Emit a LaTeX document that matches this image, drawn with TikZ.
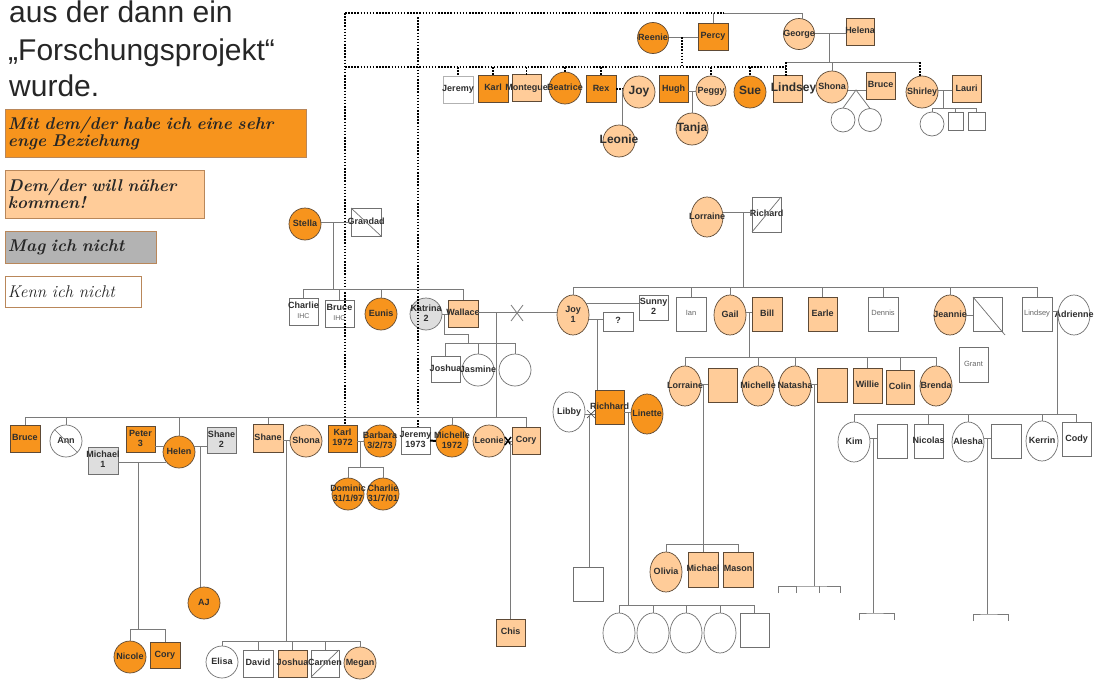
\documentclass[tikz,border=0pt]{standalone}
\usepackage{fontspec}
\newfontfamily\arl{Liberation Sans}
\usetikzlibrary{shapes.geometric}
\definecolor{dor}{HTML}{F7941D}
\definecolor{lor}{HTML}{FFCC99}
\definecolor{lgr}{HTML}{DEDEDE}
\definecolor{leggr}{HTML}{B3B3B3}
\definecolor{brd}{HTML}{5E4A36}
\definecolor{wbrd}{HTML}{707070}
\definecolor{lnc}{HTML}{7A7A7A}
\definecolor{txt}{HTML}{2E2E2E}
\definecolor{gtxt}{HTML}{666666}
\definecolor{legb}{HTML}{B9875A}
\definecolor{head}{HTML}{262626}
\newcommand\zb[1]{\makebox[0pt]{\begin{tabular}{@{}c@{}}#1\end{tabular}}}
\newcommand\ihc{{\mdseries\color{gtxt}\fontsize{7}{8}\selectfont IHC}}
\newcommand\tk[2]{\draw[con] (#1.north |- #2) -- (#1.north);}
\tikzset{
 con/.style={draw=lnc, line width=0.8pt},
 dots/.style={draw=black, line width=1.5pt, dash pattern=on 1.5pt off 1.6pt},
 pn/.style={draw=brd, line width=0.7pt, inner sep=0pt, outer sep=0pt, text=txt, font=\arl\bfseries\fontsize{9}{10}\selectfont},
 sq/.style={pn, rectangle, minimum width=29pt, minimum height=27pt},
 sqt/.style={sq, minimum height=34pt},
 ci/.style={pn, circle, minimum size=32pt},
 el/.style={pn, ellipse, minimum width=32pt, minimum height=40pt},
 wh/.style={fill=white, draw=wbrd},
 dk/.style={fill=dor},
 lt/.style={fill=lor},
 gy/.style={fill=lgr, draw=wbrd},
 bigt/.style={font=\arl\bfseries\fontsize{12}{13}\selectfont},
 thint/.style={font=\arl\fontsize{7.5}{8}\selectfont, text=gtxt},
 dec/.style={draw=wbrd, line width=0.7pt},
 legbox/.style={draw=legb, line width=0.8pt, inner sep=3pt, align=left, font=\bfseries\itshape\fontsize{17}{15}\selectfont, text=black!85},
 headt/.style={anchor=base west, inner sep=0pt, font=\arl\fontsize{30}{30}\selectfont, text=head},
}
\begin{document}
\begin{tikzpicture}[x=1pt,y=-1pt]
\useasboundingbox (0,0) rectangle (1101,680);
% heading
\node[headt] (h1) at (9,23) {aus der dann ein};
\node[headt] (h2) at (8,60) {„Forschungsprojekt“};
\node[headt] (h3) at (9,96) {wurde.};
% legend
\node[legbox, fill=dor, text width=295pt, minimum height=48pt] (lg1) at (155.5,133) {Mit dem/der habe ich eine sehr\\enge Beziehung};
\node[legbox, fill=lor, text width=193pt, minimum height=48pt] (lg2) at (104.5,194) {Dem/der will näher\\kommen!};
\node[legbox, fill=leggr, text width=145pt, minimum height=32pt] (lg3) at (80.5,247) {Mag ich nicht};
\node[legbox, fill=white, text width=130pt, minimum height=31pt, font=\itshape\fontsize{17}{15}\selectfont] (lg4) at (73,291.5) {Kenn ich nicht};

% ---------- top generation
\node[sq,dk,minimum width=30pt] (percy) at (713,36.5) {\zb{Percy}};
\node[ci,dk,minimum size=31pt] (reenie) at (653,38) {\zb{Reenie}};
\node[ci,lt,minimum size=31pt] (george) at (799,34) {\zb{George}};
\node[sq,lt,minimum width=28pt] (helena) at (860,31.5) {\zb{Helena}};
\node[sq,wh,draw=black!30,minimum width=30pt] (jeremyT) at (458,89.5) {\zb{Jeremy}};
\node[sq,dk,minimum width=30pt] (karlT) at (493,88.5) {\zb{Karl}};
\node[sq,lt] (monteg) at (526.5,88) {\zb{Montegue}};
\node[ci,dk] (beatrice) at (565,88) {\zb{Beatrice}};
\node[sq,dk,minimum width=30pt] (rex) at (601,89) {\zb{Rex}};
\node[ci,lt,bigt] (joyT) at (639,92) {\zb{Joy}};
\node[ci,lt,bigt] (leonieT) at (619,141) {\zb{Leonie}};
\node[sq,dk] (hugh) at (673.5,89) {\zb{Hugh}};
\node[ci,lt,minimum size=30pt] (peggy) at (711,91) {\zb{Peggy}};
\node[ci,lt,bigt] (tanja) at (692,129) {\zb{Tanja}};
\node[ci,dk,bigt] (sue) at (750,92) {\zb{Sue}};
\node[sq,lt,bigt] (lindseyT) at (787.5,89) {\zb{\hspace{12pt}Lindsey}};
\node[ci,lt] (shonaT) at (832,87) {\zb{Shona}};
\node[sq,lt] (bruceT) at (880.5,85.5) {\zb{Bruce}};
\node[ci,wh,minimum size=24pt] (tw1) at (843,120) {};
\node[ci,wh,minimum size=23pt] (tw2) at (870,120) {};
\node[ci,lt] (shirley) at (922,92) {\zb{Shirley}};
\node[sq,lt] (lauri) at (966.5,89) {\zb{Lauri}};
\node[ci,wh,minimum size=24pt] (sc1) at (932,124) {};
\node[sq,wh,minimum width=15pt,minimum height=18pt] (sb1) at (955.5,121) {};
\node[sq,wh,minimum width=17pt,minimum height=18pt] (sb2) at (976.5,121) {};

% ---------- middle left
\node[ci,dk] (stella) at (305,224) {\zb{Stella}};
\node[sq,wh,minimum width=30pt,minimum height=28pt] (grandad) at (366,222) {\zb{Grandad}};
\node[sq,wh] (charlieM) at (303.5,311.5) {\zb{Charlie\\\ihc}};
\node[sq,wh] (bruceM) at (339.5,313.5) {\zb{Bruce\\\ihc}};
\node[ci,dk] (eunis) at (381,314) {\zb{Eunis}};
\node[ci,gy] (katrina) at (426,314) {\zb{Katrina\\2}};
\node[sq,lt,minimum width=30pt] (wallace) at (463,313.5) {\zb{Wallace}};
\node[sq,wh,minimum height=26pt] (joshuaM) at (445.5,369) {\zb{Joshua}};
\node[ci,wh] (jasmine) at (478,370) {\zb{Jasmine}};
\node[ci,wh] (c3) at (515,370) {};

% ---------- middle right
\node[el,lt] (lorraineT) at (707,217) {\zb{Lorraine}};
\node[sq,wh,minimum height=35pt] (richard) at (766.5,214.5) {\zb{Richard}};
\node[el,lt] (joy1) at (573,315) {\zb{Joy\\1}};
\node[sq,wh,minimum height=25pt] (sunny) at (653.5,307.5) {\zb{Sunny\\2}};
\node[sq,wh,minimum width=30pt,minimum height=19pt] (qm) at (618,321.5) {\zb{?}};
\node[sqt,wh,minimum width=30pt,thint] (ian) at (691,314) {\zb{Ian}};
\node[el,lt] (gail) at (730,315) {\zb{Gail}};
\node[sqt,lt,minimum width=30pt] (bill) at (767,314) {\zb{Bill}};
\node[sqt,lt] (earle) at (822.5,314) {\zb{Earle}};
\node[sqt,wh,minimum width=30pt,thint] (dennis) at (883,314) {\zb{Dennis}};
\node[el,lt] (jeannie) at (950,315) {\zb{Jeannie}};
\node[sqt,wh] (jpart) at (987.5,314) {};
\node[sqt,wh,minimum height=35pt,thint] (grant) at (973.5,364.5) {\zb{Grant}};
\node[sqt,wh,minimum width=30pt,thint] (lindseyR) at (1037,314) {\zb{Lindsey}};
\node[el,wh] (adrienne) at (1074,315) {\zb{Adrienne}};
\node[el,lt] (lorraineC) at (685,386) {\zb{Lorraine}};
\node[sqt,lt] (lbox) at (722.5,385) {};
\node[el,lt] (michelleC) at (758,386) {\zb{Michelle}};
\node[el,lt] (natasha) at (795,386) {\zb{Natasha}};
\node[sqt,lt,minimum width=30pt] (nbox) at (832,385) {};
\node[sqt,lt,minimum height=35pt] (willie) at (867.5,385.5) {\zb{Willie}};
\node[sqt,lt,minimum width=28pt] (colin) at (900,387) {\zb{Colin}};
\node[el,lt] (brenda) at (936,386) {\zb{Brenda}};
\node[el,wh] (libby) at (569,412) {\zb{Libby}};
\node[sqt,dk] (richhard) at (609.5,407) {\zb{Richhard}};
\node[el,dk] (linette) at (647,414) {\zb{Linette}};
\node[sqt,wh,minimum width=30pt] (rbox) at (588,584) {};
\node[el,wh] (rc1) at (619,633) {};
\node[el,wh] (rc2) at (653,633) {};
\node[el,wh] (rc3) at (686,633) {};
\node[el,wh] (rc4) at (720,633) {};
\node[sqt,wh] (rc5) at (754.5,630) {};
\node[el,lt] (olivia) at (666,572) {\zb{Olivia}};
\node[sqt,lt,minimum width=30pt,minimum height=35pt] (michaelR) at (703,569.5) {\zb{Michael}};
\node[sqt,lt,minimum width=30pt,minimum height=35pt] (mason) at (738,569.5) {\zb{Mason}};
\node[el,wh] (kim) at (854,442) {\zb{Kim}};
\node[sqt,wh,minimum width=30pt] (kbox) at (892,441) {};
\node[sqt,wh] (nicolas) at (928.5,441) {\zb{Nicolas}};
\node[el,wh] (alesha) at (968,442) {\zb{Alesha}};
\node[sqt,wh,minimum width=30pt] (abox) at (1006,441) {};
\node[el,wh] (kerrin) at (1042,441) {\zb{Kerrin}};
\node[sqt,wh] (cody) at (1076.5,439) {\zb{Cody}};

% ---------- lower left
\node[sq,dk,minimum width=30pt] (bruceL) at (25,438.5) {\zb{Bruce}};
\node[ci,wh] (ann) at (66,441) {\zb{Ann}};
\node[sq,dk,minimum height=26pt] (peter) at (140.5,439) {\zb{Peter\\3}};
\node[ci,dk] (helen) at (179,452) {\zb{Helen}};
\node[sq,gy,minimum width=30pt] (michaelL) at (103,460.5) {\zb{Michael\\1}};
\node[sq,gy,minimum height=26pt] (shane2) at (221.5,440) {\zb{Shane\\2}};
\node[ci,dk] (aj) at (204,603) {\zb{AJ}};
\node[ci,dk] (nicole) at (130,657) {\zb{Nicole}};
\node[sq,dk,minimum width=30pt,minimum height=26pt] (coryL) at (165,655) {\zb{Cory}};
\node[sq,lt,minimum width=30pt,minimum height=28pt] (shaneL) at (268,438) {\zb{Shane}};
\node[ci,lt] (shonaL) at (306,441) {\zb{Shona}};
\node[ci,wh] (elisa) at (222,662) {\zb{Elisa}};
\node[sq,wh,minimum width=30pt] (david) at (258,663.5) {\zb{David}};
\node[sq,lt] (joshuaL) at (292.5,663.5) {\zb{Joshua}};
\node[sq,wh,minimum width=28pt] (carmen) at (325,663.5) {\zb{Carmen}};
\node[ci,lt] (megan) at (360,663) {\zb{Megan}};
\node[sq,dk] (karlL) at (342.5,438.5) {\zb{Karl\\1972}};
\node[ci,dk] (barbara) at (380,441) {\zb{Barbara\\3/2/73}};
\node[ci,dk] (dominic) at (348,494) {\zb{Dominic\\31/1/97}};
\node[ci,dk] (charlieL) at (383,494) {\zb{Charlie\\31/7/01}};
\node[sq,wh] (jeremyL) at (415.5,440.5) {\zb{Jeremy\\1973}};
\node[ci,dk] (michelleL) at (452,441) {\zb{Michelle\\1972}};
\node[ci,lt] (leonieL) at (489,441) {\zb{Leonie}};
\node[sq,lt,minimum width=28pt] (coryR) at (526,440.5) {\zb{Cory}};
\node[sq,lt] (chis) at (510.5,632.5) {\zb{Chis}};

% ================= connectors
% deceased marks
\draw[dec] (grandad.north west) -- (grandad.south east);
\draw[dec] (richard.south west) -- (richard.north east);
\draw[dec] (jpart.north west) -- ([shift={(3pt,-4pt)}]jpart.south east);
\draw[dec] (carmen.south west) -- (carmen.north east);
\draw[dec] (ann.north west) -- (ann.south east);

% top framework
\coordinate (dA) at (345,13);
\coordinate (dB) at (724,13);
\coordinate (dC) at (802,13);
\coordinate (dD) at (418,17);
\coordinate (gL) at (345,67);
\coordinate (gR) at (786,67);
\coordinate (rp) at (682,37);
\draw[dots] (dA) -- (dB);
\draw[con] (dB) -- (dC) -- (dC |- george.north);
\draw[con] (percy.north) -- (percy.north |- dA);
\draw[dots] (gL) -- (gR);
\draw[con] (reenie.east |- rp) -- (percy.west |- rp);
\draw[dots] (rp) -- (rp |- gL);
\foreach \p in {jeremyT,karlT,monteg,beatrice,rex,peggy,sue} {\draw[dots] (\p.north |- gL) -- (\p.north);}
\coordinate (rj) at (622,89);
\draw[dots] (rex.east) -- (rex.east -| joyT.west);
\draw[con] (rj) -- (rj |- leonieT.north);
\coordinate (hp) at (692,91);
\draw[con] (hugh.east |- hp) -- (peggy.west |- hp);
\draw[con] (hp) -- (tanja.north);
\draw[dots] (dA) -- (dA |- karlL.north);
\draw[dots] (dD) -- (dD |- jeremyL.north);

% George / Helena
\coordinate (gh) at (829,33);
\coordinate (gk) at (829,62);
\coordinate (gkL) at (786,62);
\coordinate (gkR) at (920,62);
\draw[con] (george.east |- gh) -- (helena.west |- gh);
\draw[con] (gh) -- (gk);
\draw[con] (gkL) -- (gkR);
\draw[dots] (gkL) -- (gkL |- lindseyT.north);
\draw[con] (shonaT.north |- gk) -- (shonaT.north);
\draw[dots] (gkR) -- (gkR |- shirley.north);
\coordinate (sbm) at (856,90);
\draw[con] (shonaT.east |- sbm) -- (bruceT.west |- sbm);
\draw[con] (tw1.north) -- (sbm) -- (tw2.north);
\coordinate (sl) at (943,90);
\coordinate (slk) at (943,108);
\draw[con] (shirley.east |- sl) -- (lauri.west |- sl);
\draw[con] (sl) -- (slk);
\draw[con] (sc1.north |- slk) -- (sb2.north |- slk);
\foreach \p in {sc1,sb1,sb2} {\tk{\p}{slk}}

% Stella / Grandad
\coordinate (sg) at (333,222);
\coordinate (sgk) at (333,289);
\draw[con] (stella.east |- sg) -- (grandad.west |- sg);
\draw[con] (sg) -- (sgk);
\draw[con] (charlieM.north |- sgk) -- (wallace.north |- sgk);
\foreach \p in {charlieM,bruceM,eunis,wallace} {\tk{\p}{sgk}}
% Katrina / Wallace
\coordinate (kw) at (444,314);
\coordinate (kw1) at (444,334);
\coordinate (kw2) at (468,334);
\coordinate (kwk) at (468,343);
\draw[con] (katrina.east) -- (wallace.west |- katrina.east);
\draw[con] (kw) -- (kw1) -- (kw2) -- (kwk);
\draw[con] (joshuaM.north |- kwk) -- (c3.north |- kwk);
\foreach \p in {joshuaM,jasmine,c3} {\tk{\p}{kwk}}
% Wallace / Joy
\coordinate (wj) at (496,312);
\coordinate (mL) at (26,417);
\draw[con] (wallace.east |- wj) -- (joy1.west |- wj);
\coordinate (x1) at (517,313);
\draw[con] ([shift={(-6pt,8pt)}]x1) -- ([shift={(6pt,-8pt)}]x1);
\draw[con] ([shift={(-6pt,-8pt)}]x1) -- ([shift={(6pt,8pt)}]x1);
\draw[con] (wj) -- (wj |- mL);

% Lorraine / Richard
\coordinate (lr) at (743,212);
\coordinate (lrk) at (743,287);
\draw[con] (lorraineT.east |- lr) -- (richard.west |- lr);
\draw[con] (lr) -- (lrk);
\draw[con] (joy1.north |- lrk) -- (lindseyR.north |- lrk);
\foreach \p in {joy1,ian,gail,earle,dennis,jeannie,lindseyR} {\tk{\p}{lrk}}
\draw[con] (joy1.40) -- (sunny.west |- joy1.40);
\coordinate (jq) at (597,319.5);
\draw[con] (joy1.-15) -- (qm.west |- joy1.-15);
\draw[con] (jq) -- (jq |- richhard.north);
% Gail / Bill
\coordinate (gb) at (749,312);
\coordinate (gbk) at (749,357);
\draw[con] (gail.east |- gb) -- (bill.west |- gb);
\draw[con] (gb) -- (gbk);
\draw[con] (lorraineC.north |- gbk) -- (brenda.north |- gbk);
\foreach \p in {lorraineC,michelleC,natasha,willie,colin,brenda} {\tk{\p}{gbk}}
\draw[con] (jeannie.east) -- (jpart.west |- jeannie.east);
% Lindsey / Adrienne
\coordinate (la) at (1057,311);
\coordinate (lak) at (1057,414);
\draw[con] (lindseyR.east |- la) -- (adrienne.west |- la);
\draw[con] (la) -- (lak);
\draw[con] (kim.north |- lak) -- (cody.north |- lak);
\foreach \p in {kim,nicolas,alesha,kerrin,cody} {\tk{\p}{lak}}
% Kim
\coordinate (kk) at (873,438);
\coordinate (kkk) at (873,613);
\coordinate (kg1) at (859,620);
\coordinate (kg2) at (894,620);
\draw[con] (kim.east |- kk) -- (kbox.west |- kk);
\draw[con] (kk) -- (kkk);
\draw[con] (kg1) |- (kkk) -| (kg2);
% Alesha
\coordinate (ak) at (987,438);
\coordinate (akk) at (987,614);
\coordinate (ag1) at (973,621);
\coordinate (ag2) at (1008,621);
\draw[con] (alesha.east |- ak) -- (abox.west |- ak);
\draw[con] (ak) -- (akk);
\draw[con] (ag1) |- (akk) -| (ag2);
% Natasha
\coordinate (nt) at (814,384);
\coordinate (ntk) at (814,586);
\coordinate (ng1) at (778,593);
\coordinate (ng2) at (796,593);
\coordinate (ng3) at (819,593);
\coordinate (ng4) at (840,593);
\draw[con] (natasha.east |- nt) -- (nbox.west |- nt);
\draw[con] (nt) -- (ntk);
\draw[con] (ng1) |- (ntk) -| (ng4);
\draw[con] (ng2) -- (ng2 |- ntk);
\draw[con] (ng3) -- (ng3 |- ntk);
% Lorraine (child)
\coordinate (lo) at (703,384);
\coordinate (lok) at (703,544);
\draw[con] (lorraineC.east |- lo) -- (lbox.west |- lo);
\draw[con] (lo) -- (lok);
\draw[con] (olivia.north |- lok) -- (mason.north |- lok);
\foreach \p in {olivia,michaelR,mason} {\tk{\p}{lok}}
% Libby / Richhard / Linette
\coordinate (lb) at (589,414);
\draw[con] (libby.east |- lb) -- (richhard.west |- lb);
\coordinate (x2) at (591,414);
\draw[draw=black!70,line width=0.7pt] ([shift={(-4pt,4pt)}]x2) -- ([shift={(4pt,-4pt)}]x2);
\draw[draw=black!70,line width=0.7pt] ([shift={(-4pt,-4pt)}]x2) -- ([shift={(4pt,4pt)}]x2);
\draw[con] (lb) -- (lb |- rbox.north);
\coordinate (rl) at (628,412);
\coordinate (rlk) at (628,605);
\draw[con] (richhard.east |- rl) -- (linette.west |- rl);
\draw[con] (rl) -- (rlk);
\draw[con] (rc1.north |- rlk) -- (rc5.north |- rlk);
\foreach \p in {rc1,rc2,rc3,rc4,rc5} {\tk{\p}{rlk}}

% lower main sibling line
\draw[con] (bruceL.north |- mL) -- (coryR.north |- mL);
\foreach \p in {bruceL,ann,helen,shaneL,michelleL,coryR} {\tk{\p}{mL}}
% Helen
\coordinate (hl) at (0,446.5);
\coordinate (haj) at (200,446.5);
\draw[con] (peter.east |- hl) -- (helen.160);
\draw[con] (helen.20) -- (shane2.west |- helen.20);
\draw[con] (haj) -- (haj |- aj.north);
\coordinate (mh) at (138,462);
\coordinate (nk) at (138,629);
\draw[con] (michaelL.east |- mh) -- ([xshift=3pt]helen.west |- mh);
\draw[con] (mh) -- (nk);
\draw[con] (nicole.north |- nk) -- (coryL.north |- nk);
\foreach \p in {nicole,coryL} {\tk{\p}{nk}}
% Shane / Shona
\coordinate (ss) at (286,440);
\coordinate (ssk) at (286,641);
\draw[con] (shaneL.east |- ss) -- (shonaL.west |- ss);
\draw[con] (ss) -- (ssk);
\draw[con] (elisa.north |- ssk) -- (megan.north |- ssk);
\foreach \p in {elisa,david,joshuaL,carmen,megan} {\tk{\p}{ssk}}
% Karl / Barbara
\coordinate (kb) at (360,441);
\coordinate (kbk) at (360,467);
\draw[con] (karlL.east |- kb) -- (barbara.west |- kb);
\draw[con] (kb) -- (kbk);
\draw[con] (dominic.north |- kbk) -- (charlieL.north |- kbk);
\foreach \p in {dominic,charlieL} {\tk{\p}{kbk}}
% Jeremy / Michelle
\draw[black,line width=2pt] (jeremyL.east) -- (michelleL.west);
% Leonie / Cory
\coordinate (lc) at (510,441);
\draw[con] (leonieL.east) -- (coryR.west |- leonieL.east);
\draw[black,line width=1.4pt] (505,437) -- (511,445);
\draw[black,line width=1.4pt] (505,445) -- (511,437);
\draw[con] (lc) -- (lc |- chis.north);
\end{tikzpicture}
\end{document}
